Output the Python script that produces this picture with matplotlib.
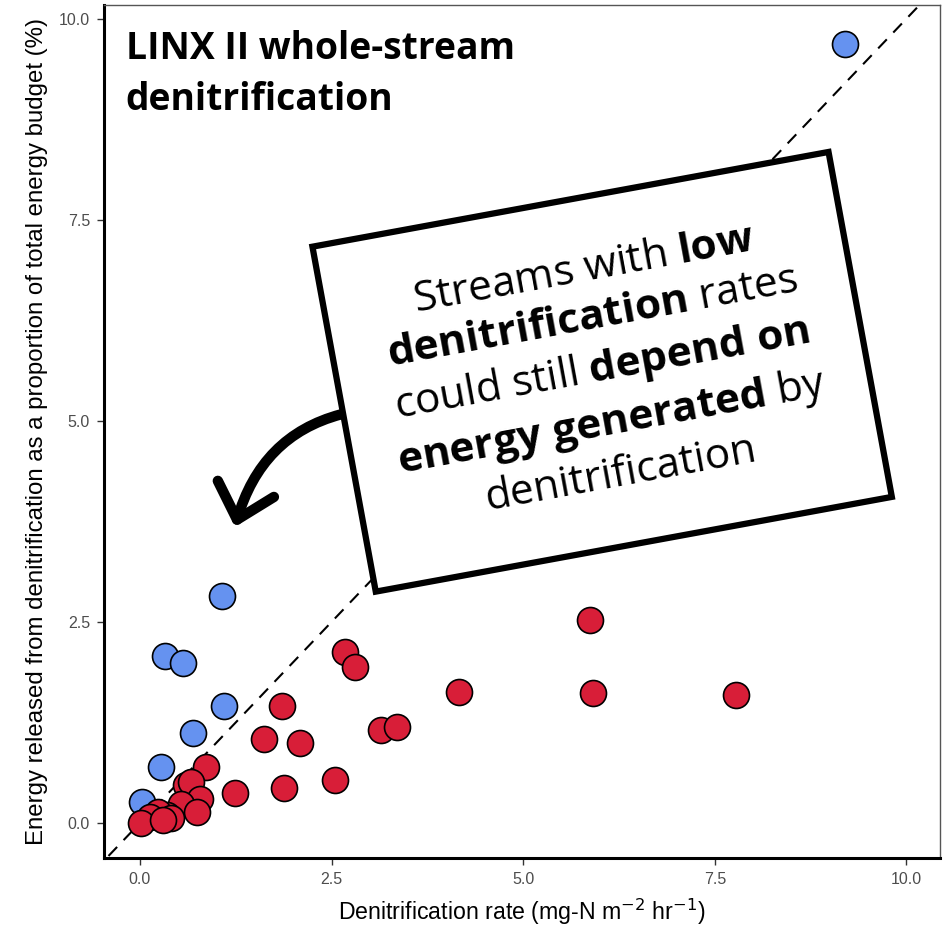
import matplotlib
matplotlib.use("Agg")
import matplotlib.pyplot as plt
from matplotlib.patches import Rectangle, FancyArrowPatch
import matplotlib.transforms as mtransforms

# Denitrification rate (mg-N m^-2 hr^-1) vs energy share (%)
blue_x = [9.20, 1.07, 0.33, 0.56, 1.10, 0.69, 0.27, 0.03]
blue_y = [9.69, 2.82, 2.08, 1.99, 1.46, 1.12, 0.70, 0.26]

red_x = [2.67, 2.81, 1.85, 1.62, 2.09, 3.14, 3.36, 2.54, 1.88, 1.24,
         0.86, 0.60, 0.67, 0.78, 0.53, 0.75, 0.35, 0.24, 0.13, 0.02,
         0.41, 0.30, 5.87, 4.16, 5.91, 7.77]
red_y = [2.13, 1.94, 1.45, 1.04, 1.00, 1.16, 1.20, 0.53, 0.44, 0.37,
         0.70, 0.47, 0.51, 0.30, 0.24, 0.14, 0.10, 0.14, 0.08, 0.00,
         0.06, 0.04, 2.52, 1.63, 1.62, 1.59]

ticks = [0.0, 2.5, 5.0, 7.5, 10.0]
tick_labels = ["0.0", "2.5", "5.0", "7.5", "10.0"]

TEXT_FONT = "Open Sans"
plt.rcParams["mathtext.fontset"] = "custom"
plt.rcParams["mathtext.rm"] = TEXT_FONT
plt.rcParams["mathtext.bf"] = TEXT_FONT + ":bold"
plt.rcParams["mathtext.it"] = TEXT_FONT + ":italic"

fig = plt.figure(figsize=(9.44, 9.27), dpi=100)
ax = fig.add_axes([0.110, 0.0744, 0.886, 0.9202])

ax.set_xlim(-0.47, 10.44)
ax.set_ylim(-0.435, 10.17)

# 1:1 reference line
ax.plot([-1, 11], [-1, 11], ls=(0, (6, 4.5)), color="black", lw=1.5, zorder=1)

ax.scatter(blue_x, blue_y, s=350, c="#6592F0", edgecolors="black",
           linewidths=1.2, zorder=3)
ax.scatter(red_x, red_y, s=350, c="#D81E38", edgecolors="black",
           linewidths=1.2, zorder=4)

ax.set_xticks(ticks)
ax.set_xticklabels(tick_labels)
ax.set_yticks(ticks)
ax.set_yticklabels(tick_labels)
ax.tick_params(axis="both", direction="out", length=5, width=1,
               color="#333333", labelcolor="#4d4d4d", labelsize=11.5,
               pad=5)
for lab in ax.get_xticklabels() + ax.get_yticklabels():
    lab.set_family("Liberation Sans")

ax.set_xlabel(r"Denitrification rate (mg-N m$^{-2}$ hr$^{-1}$)",
              fontsize=16.7, family="Liberation Sans", labelpad=7)
ax.xaxis.label.set_math_fontfamily("dejavusans")
ax.set_ylabel("Energy released from denitrification as a proportion of total energy budget (%)",
              fontsize=17.3, family="Liberation Sans", labelpad=8)

for side in ("left", "bottom"):
    ax.spines[side].set_linewidth(2.2)
    ax.spines[side].set_color("black")
for side in ("top", "right"):
    ax.spines[side].set_linewidth(1.0)
    ax.spines[side].set_color("#555555")

# Title inside the panel
ax.text(0.026, 0.971, "LINX II whole-stream\ndenitrification",
        transform=ax.transAxes, ha="left", va="top", fontsize=26.8,
        fontweight="bold", family=TEXT_FONT, linespacing=1.45, zorder=6)

# Rotated annotation box, centred at (box_cx, box_cy) in data units
angle = 10.4
box_cx, box_cy = 6.03, 5.61
box_w_in, box_h_in = 5.247, 3.507
box_tr = (mtransforms.Affine2D().rotate_deg(angle) + fig.dpi_scale_trans
          + mtransforms.ScaledTranslation(box_cx, box_cy, ax.transData))
rect = Rectangle((-box_w_in / 2, -box_h_in / 2), box_w_in, box_h_in,
                 facecolor="white", edgecolor="black", linewidth=4.5,
                 joinstyle="miter", zorder=5, transform=box_tr)
rect.set_clip_on(False)
ax.add_artist(rect)

box_text = ("Streams with $\\mathbf{low}$\n"
            "$\\mathbf{denitrification}$ rates\n"
            "could still $\\mathbf{depend\\ on}$\n"
            "$\\mathbf{energy\\ generated}$ by\n"
            "denitrification")
ax.text(box_cx, box_cy, box_text, ha="center", va="center", rotation=angle,
        rotation_mode="anchor", multialignment="center", fontsize=30.5,
        family=TEXT_FONT, linespacing=1.22, zorder=6)

# Curved arrow pointing at the low-rate cluster
arrow = FancyArrowPatch((2.62, 5.08), (1.24, 3.68),
                        connectionstyle="angle3,angleA=15,angleB=74",
                        arrowstyle="->,head_length=2.3,head_width=2.1",
                        mutation_scale=10, shrinkA=0, shrinkB=0,
                        lw=7.5, color="black", capstyle="round",
                        joinstyle="round", zorder=4.5)
ax.add_patch(arrow)

fig.savefig("out.png", dpi=100)
